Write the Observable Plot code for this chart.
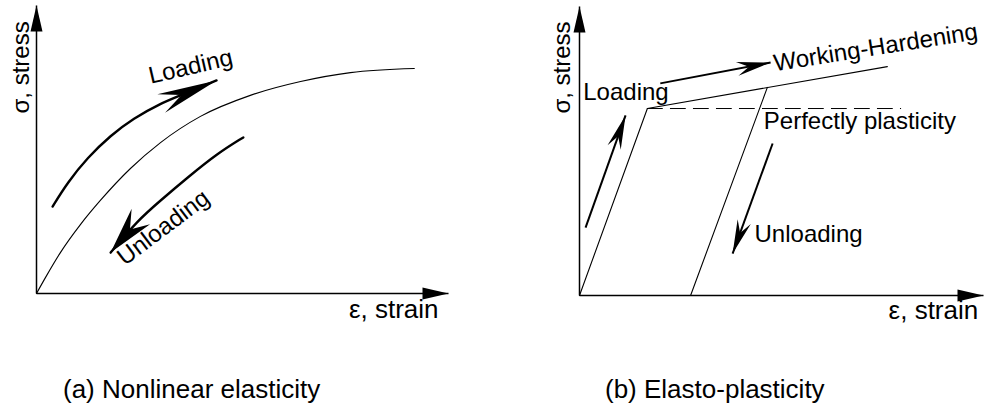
<!DOCTYPE html>
<html>
<head>
<meta charset="utf-8">
<script src="https://cdn.jsdelivr.net/npm/d3@7"></script>
<script src="https://cdn.jsdelivr.net/npm/@observablehq/plot@0.6"></script>
<style>
  body { margin: 0; background: #fff; }
  #fig { position: relative; width: 984px; height: 404px; font-family: "Liberation Sans", Arial, sans-serif; }
  .panel { position: absolute; top: 0; }
  .cap { position: absolute; top: 376px; font-size: 26px; line-height: 26px; white-space: nowrap; color: #000; }
</style>
</head>
<body>
<div id="fig"></div>
<script>
const FONT = '"Liberation Sans", Arial, sans-serif';

// ---- (a) Nonlinear elasticity: stress–strain curve (normalised units) ----
const curveStrain = [0, 0.022, 0.058, 0.107, 0.155, 0.228, 0.301, 0.398, 0.519, 0.641, 0.762, 0.917];
const curveStress = [0, 0.056, 0.142, 0.240, 0.323, 0.434, 0.524, 0.615, 0.688, 0.736, 0.767, 0.781];

// loading / unloading direction arrows beside the curve
const loadArrowStrain = [0.039, 0.075, 0.124, 0.180, 0.235, 0.301, 0.350, 0.437];
const loadArrowStress = [0.302, 0.385, 0.472, 0.549, 0.608, 0.660, 0.688, 0.740];
const unloadArrowStrain = [0.502, 0.439, 0.367, 0.301, 0.245, 0.180];
const unloadArrowStress = [0.542, 0.486, 0.403, 0.323, 0.253, 0.142];

const labelsAText   = ["Loading", "Unloading", "σ, stress", "ε, strain"];
const labelsAStrain = [0.374, 0.308, -0.036, 0.867];
const labelsAStress = [0.788, 0.229, 0.785, -0.056];
const labelsARotate = [-13, -37, -90, 0];
const labelsASize   = [24, 24, 24, 26];

// ---- (b) Elasto-plasticity: bilinear model (normalised units) ----
const elasticStrain   = [0, 0.168];
const elasticStress   = [0, 0.647];
const hardeningStrain = [0.168, 0.762];
const hardeningStress = [0.647, 0.792];
const perfectStrain   = [0.168, 0.795];
const perfectStress   = [0.647, 0.647];
const reloadStrain    = [0.465, 0.275];
const reloadStress    = [0.720, 0];

// direction arrows: [start strain, start stress] -> [end strain, end stress]
const arrowsBStart = [[0.015, 0.235], [0.200, 0.734], [0.478, 0.526]];
const arrowsBEnd   = [[0.114, 0.623], [0.473, 0.806], [0.379, 0.145]];

const labelsBText   = ["Working-Hardening", "Loading", "Perfectly plasticity", "Unloading", "σ, stress", "ε, strain"];
const labelsBStrain = [0.733, 0.115, 0.694, 0.567, -0.042, 0.876];
const labelsBStress = [0.858, 0.702, 0.602, 0.211, 0.789, -0.052];
const labelsBRotate = [-9, 0, 0, 0, -90, 0];
const labelsBSize   = [24, 24, 24, 24, 24, 26];

const captions = ["(a) Nonlinear elasticity", "(b) Elasto-plasticity"];

// helpers
const pts = (xs, ys) => xs.map((x, i) => ({x, y: ys[i]}));
const labels = (t, xs, ys, r, s) => t.map((text, i) => ({text, x: xs[i], y: ys[i], r: r[i], s: s[i]}));
const axes = [{x1: 0, y1: 0, x2: 1, y2: 0}, {x1: 0, y1: 0, x2: 0, y2: 1}];

// filled arrowhead marker: tip at the path end, optional notch at the back
function head(len, half, notch) {
  return (color) => {
    const ns = "http://www.w3.org/2000/svg";
    const m = document.createElementNS(ns, "marker");
    m.setAttribute("viewBox", `${-len} ${-half} ${len} ${2 * half}`);
    m.setAttribute("markerWidth", len);
    m.setAttribute("markerHeight", 2 * half);
    m.setAttribute("refX", 0);
    m.setAttribute("refY", 0);
    m.setAttribute("markerUnits", "userSpaceOnUse");
    m.setAttribute("orient", "auto");
    m.setAttribute("overflow", "visible");
    const p = document.createElementNS(ns, "path");
    p.setAttribute("d", `M0,0L${-len},${-half}L${-notch},0L${-len},${half}Z`);
    p.setAttribute("fill", color === "currentColor" ? "black" : color);
    p.setAttribute("stroke", "none");
    m.appendChild(p);
    return m;
  };
}
const axisHead = head(26, 6, 26);

const textMark = (data) => Plot.text(data, {
  x: "x", y: "y", text: "text", rotate: "r", fontSize: "s",
  fontFamily: FONT, fill: "black",
  textAnchor: "middle", lineAnchor: "middle"
});

const common = {
  width: 492, height: 360,
  x: {domain: [0, 1], axis: null},
  y: {domain: [0, 1], axis: null},
  style: {fontFamily: FONT, background: "transparent", overflow: "visible"}
};

const plotA = Plot.plot({
  ...common,
  marginLeft: 36, marginRight: 44, marginTop: 5, marginBottom: 67,
  marks: [
    Plot.link(axes, {x1: "x1", y1: "y1", x2: "x2", y2: "y2", stroke: "black", strokeWidth: 1.5, markerEnd: axisHead}),
    Plot.line(pts(curveStrain, curveStress), {x: "x", y: "y", curve: "monotone-x", stroke: "black", strokeWidth: 1.1}),
    Plot.line(pts(loadArrowStrain, loadArrowStress), {x: "x", y: "y", curve: "basis", stroke: "black", strokeWidth: 2.4, markerEnd: head(60, 10, 38)}),
    Plot.line(pts(unloadArrowStrain, unloadArrowStress), {x: "x", y: "y", curve: "basis", stroke: "black", strokeWidth: 2.4, markerEnd: head(47, 12, 30)}),
    textMark(labels(labelsAText, labelsAStrain, labelsAStress, labelsARotate, labelsASize))
  ]
});

const arrowsB = arrowsBStart.map((s, i) => ({x1: s[0], y1: s[1], x2: arrowsBEnd[i][0], y2: arrowsBEnd[i][1]}));

const plotB = Plot.plot({
  ...common,
  marginLeft: 87, marginRight: 1, marginTop: 6, marginBottom: 65,
  marks: [
    Plot.link(axes, {x1: "x1", y1: "y1", x2: "x2", y2: "y2", stroke: "black", strokeWidth: 1.5, markerEnd: axisHead}),
    Plot.line(pts(perfectStrain, perfectStress), {x: "x", y: "y", stroke: "black", strokeWidth: 1, strokeDasharray: "15,8"}),
    Plot.line(pts(elasticStrain, elasticStress), {x: "x", y: "y", stroke: "black", strokeWidth: 1.1}),
    Plot.line(pts(hardeningStrain, hardeningStress), {x: "x", y: "y", stroke: "black", strokeWidth: 1.1}),
    Plot.line(pts(reloadStrain, reloadStress), {x: "x", y: "y", stroke: "black", strokeWidth: 1.1}),
    Plot.link(arrowsB, {x1: "x1", y1: "y1", x2: "x2", y2: "y2", stroke: "black", strokeWidth: 2, markerEnd: head(34, 7, 22)}),
    textMark(labels(labelsBText, labelsBStrain, labelsBStress, labelsBRotate, labelsBSize))
  ]
});

const fig = document.getElementById("fig");
[plotA, plotB].forEach((p, i) => {
  const wrap = document.createElement("div");
  wrap.className = "panel";
  wrap.style.left = (i * 492) + "px";
  wrap.appendChild(p);
  fig.appendChild(wrap);
});
captions.forEach((c, i) => {
  const d = document.createElement("div");
  d.className = "cap";
  d.style.left = (i === 0 ? 63 : 605) + "px";
  d.textContent = c;
  fig.appendChild(d);
});
</script>
</body>
</html>
